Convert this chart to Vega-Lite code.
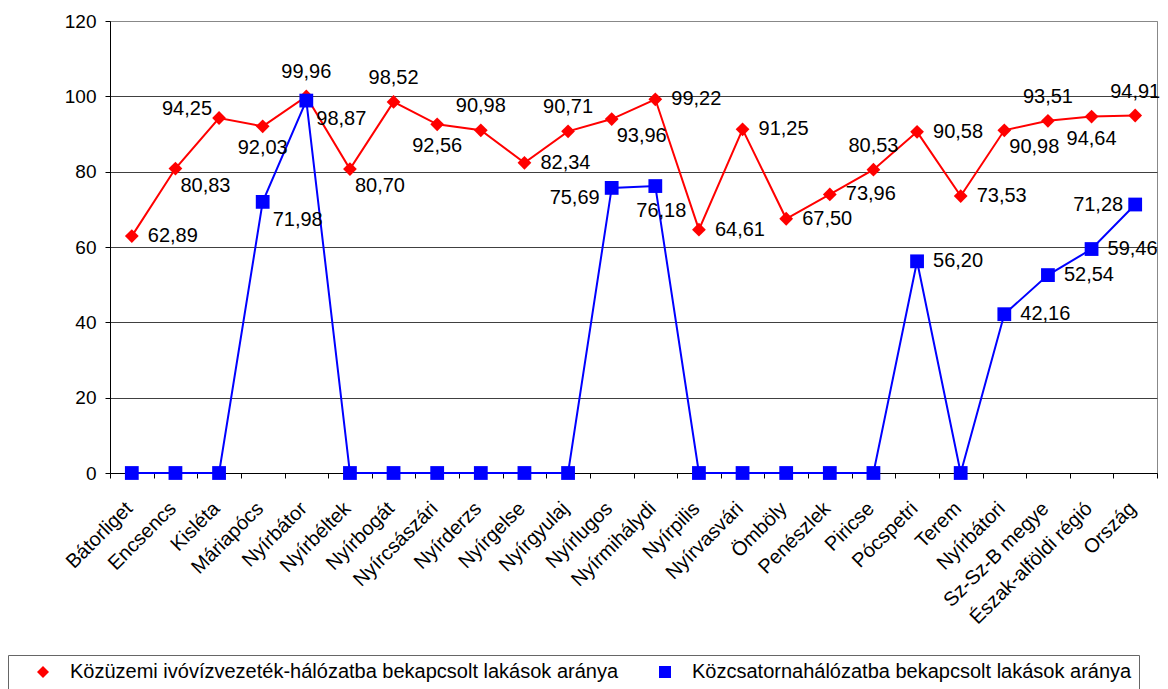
{
  "$schema": "https://vega.github.io/schema/vega-lite/v6.json",
  "width": 1047,
  "height": 452,
  "autosize": {"type": "none"},
  "padding": {"left": 110, "top": 21, "right": 11, "bottom": 216},
  "background": "white",
  "config": {
    "font": "Liberation Sans",
    "locale": {"number": {"decimal": ",", "thousands": " ", "grouping": [3], "currency": ["", ""]}},
    "view": {"stroke": "#888888", "strokeWidth": 1},
    "axis": {"labelFont": "Liberation Sans", "labelFontSize": 19, "labelColor": "#000000", "domainColor": "#000000", "tickColor": "#000000", "tickSize": 5, "title": null}
  },
  "data": {"values": [
    {"t": "Bátorliget", "viz": 62.89, "csat": 0},
    {"t": "Encsencs", "viz": 80.83, "csat": 0},
    {"t": "Kisléta", "viz": 94.25, "csat": 0},
    {"t": "Máriapócs", "viz": 92.03, "csat": 71.98},
    {"t": "Nyírbátor", "viz": 99.96, "csat": 98.87},
    {"t": "Nyírbéltek", "viz": 80.70, "csat": 0},
    {"t": "Nyírbogát", "viz": 98.52, "csat": 0},
    {"t": "Nyírcsászári", "viz": 92.56, "csat": 0},
    {"t": "Nyírderzs", "viz": 90.98, "csat": 0},
    {"t": "Nyírgelse", "viz": 82.34, "csat": 0},
    {"t": "Nyírgyulaj", "viz": 90.71, "csat": 0},
    {"t": "Nyírlugos", "viz": 93.96, "csat": 75.69},
    {"t": "Nyírmihálydi", "viz": 99.22, "csat": 76.18},
    {"t": "Nyírpilis", "viz": 64.61, "csat": 0},
    {"t": "Nyírvasvári", "viz": 91.25, "csat": 0},
    {"t": "Ömböly", "viz": 67.50, "csat": 0},
    {"t": "Penészlek", "viz": 73.96, "csat": 0},
    {"t": "Piricse", "viz": 80.53, "csat": 0},
    {"t": "Pócspetri", "viz": 90.58, "csat": 56.20},
    {"t": "Terem", "viz": 73.53, "csat": 0},
    {"t": "Nyírbátori", "viz": 90.98, "csat": 42.16},
    {"t": "Sz-Sz-B megye", "viz": 93.51, "csat": 52.54},
    {"t": "Észak-alföldi régió", "viz": 94.64, "csat": 59.46},
    {"t": "Ország", "viz": 94.91, "csat": 71.28}
  ]},
  "transform": [{"fold": ["viz", "csat"], "as": ["series", "value"]}],
  "encoding": {
    "x": {
      "field": "t", "type": "nominal", "sort": null,
      "scale": {"type": "band", "paddingInner": 0, "paddingOuter": 0},
      "axis": {"labelAngle": -45, "tickBand": "extent", "labelAlign": "right", "labelBaseline": "top", "labelOffset": -10, "labelPadding": 20, "labelFontSize": 20, "labelOverlap": false, "labelBound": false, "grid": false}
    },
    "y": {
      "field": "value", "type": "quantitative",
      "scale": {"domain": [0, 120], "nice": false},
      "axis": {"values": [0, 20, 40, 60, 80, 100, 120], "grid": true, "gridColor": {"condition": {"test": "datum.value === 120", "value": "#888888"}, "value": "#404040"}, "gridWidth": 1, "labelPadding": 9, "domainColor": "#000000"}
    }
  },
  "layer": [
    {
      "mark": {"type": "line", "strokeWidth": 2},
      "encoding": {
        "stroke": {
          "field": "series", "type": "nominal",
          "scale": {"domain": ["viz", "csat"], "range": ["#ff0000", "#0000ff"]},
          "legend": {
            "title": null, "orient": "none", "legendX": -102, "legendY": 634, "direction": "horizontal",
            "labelExpr": "datum.value == 'viz' ? 'Közüzemi ivóvízvezeték-hálózatba bekapcsolt lakások aránya' : 'Közcsatornahálózatba bekapcsolt lakások aránya'",
            "labelFont": "Liberation Sans", "labelFontSize": 20, "labelColor": "#000000", "labelLimit": 2000,
            "symbolSize": 144, "symbolStrokeWidth": 0, "symbolOffset": 18, "labelOffset": 17, "columnPadding": 18,
            "padding": 7, "strokeColor": "#666666", "fillColor": "#ffffff",
            "encode": {"symbols": {"update": {
              "shape": {"value": {"expr": "datum.value == 'viz' ? 'M-4.17,-0.17L4.17,-0.17L4.17,0.17L-4.17,0.17ZM-1.3,0L0,-1.1L1.3,0L0,1.1Z' : 'M-4.17,-0.17L4.17,-0.17L4.17,0.17L-4.17,0.17ZM-0.95,-0.9L0.95,-0.9L0.95,0.9L-0.95,0.9Z'"}},
              "fill": {"value": {"expr": "datum.value == 'viz' ? '#ff0000' : '#0000ff'"}},
              "opacity": {"value": 1}
            }}}
          }
        }
      }
    },
    {
      "mark": {"type": "point", "filled": true, "opacity": 1, "size": 190},
      "encoding": {
        "fill": {
          "field": "series", "type": "nominal",
          "scale": {"domain": ["viz", "csat"], "range": ["#ff0000", "#0000ff"]},
          "legend": {
            "title": null, "orient": "none", "legendX": -102, "legendY": 634, "direction": "horizontal",
            "labelExpr": "datum.value == 'viz' ? 'Közüzemi ivóvízvezeték-hálózatba bekapcsolt lakások aránya' : 'Közcsatornahálózatba bekapcsolt lakások aránya'",
            "labelFont": "Liberation Sans", "labelFontSize": 20, "labelColor": "#000000", "labelLimit": 2000,
            "symbolSize": 144, "symbolStrokeWidth": 0, "symbolOffset": 18, "labelOffset": 17, "columnPadding": 18,
            "padding": 7, "strokeColor": "#666666", "fillColor": "#ffffff",
            "encode": {"symbols": {"update": {
              "shape": {"value": {"expr": "datum.value == 'viz' ? 'M-4.17,-0.17L4.17,-0.17L4.17,0.17L-4.17,0.17ZM-1.3,0L0,-1.1L1.3,0L0,1.1Z' : 'M-4.17,-0.17L4.17,-0.17L4.17,0.17L-4.17,0.17ZM-0.95,-0.9L0.95,-0.9L0.95,0.9L-0.95,0.9Z'"}},
              "fill": {"value": {"expr": "datum.value == 'viz' ? '#ff0000' : '#0000ff'"}},
              "opacity": {"value": 1}
            }}}
          }
        },
        "shape": {"field": "series", "type": "nominal", "scale": {"domain": ["viz", "csat"], "range": ["diamond", "square"]}, "legend": null}
      }
    },
    {
      "transform": [{"filter": "datum.series == 'viz'"}],
      "mark": {
        "type": "text", "baseline": "middle", "fontSize": 20, "color": "#000000", "font": "Liberation Sans",
        "align": {"expr": "indexof(['Máriapócs','Nyírcsászári','Észak-alföldi régió','Nyírgyulaj','Piricse','Nyírbogát','Nyírderzs','Sz-Sz-B megye','Ország','Nyírbátor'], datum.t) >= 0 ? 'center' : (datum.t == 'Kisléta' ? 'right' : 'left')"},
        "dx": {"expr": "indexof(['Máriapócs','Nyírcsászári','Észak-alföldi régió','Nyírgyulaj','Piricse','Nyírbogát','Nyírderzs','Sz-Sz-B megye','Ország','Nyírbátor'], datum.t) >= 0 ? 0 : (datum.t == 'Kisléta' ? -7 : (indexof(['Encsencs','Nyírbéltek','Nyírlugos','Nyírbátori'], datum.t) >= 0 ? 5 : 16))"},
        "dy": {"expr": "indexof(['Nyírgyulaj','Piricse','Nyírbogát','Nyírderzs','Sz-Sz-B megye','Ország','Nyírbátor'], datum.t) >= 0 ? -24 : (indexof(['Máriapócs','Nyírcsászári','Észak-alföldi régió'], datum.t) >= 0 ? 22 : (indexof(['Encsencs','Nyírbéltek','Nyírlugos','Nyírbátori'], datum.t) >= 0 ? 17 : (datum.t == 'Kisléta' ? -9 : 0)))"}
      },
      "encoding": {"text": {"field": "value", "type": "quantitative", "format": ".2f"}}
    },
    {
      "transform": [{"filter": "datum.series == 'csat' && datum.value > 0"}],
      "mark": {
        "type": "text", "baseline": "middle", "fontSize": 20, "color": "#000000", "font": "Liberation Sans",
        "align": {"expr": "indexof(['Nyírlugos','Ország'], datum.t) >= 0 ? 'right' : (datum.t == 'Nyírmihálydi' ? 'center' : 'left')"},
        "dx": {"expr": "indexof(['Nyírlugos','Ország'], datum.t) >= 0 ? -12 : (datum.t == 'Nyírmihálydi' ? 6 : (indexof(['Máriapócs','Nyírbátor'], datum.t) >= 0 ? 10 : 16))"},
        "dy": {"expr": "indexof(['Máriapócs','Nyírbátor'], datum.t) >= 0 ? 18 : (datum.t == 'Nyírmihálydi' ? 25 : (datum.t == 'Nyírlugos' ? 10 : 0))"}
      },
      "encoding": {"text": {"field": "value", "type": "quantitative", "format": ".2f"}}
    }
  ]
}
